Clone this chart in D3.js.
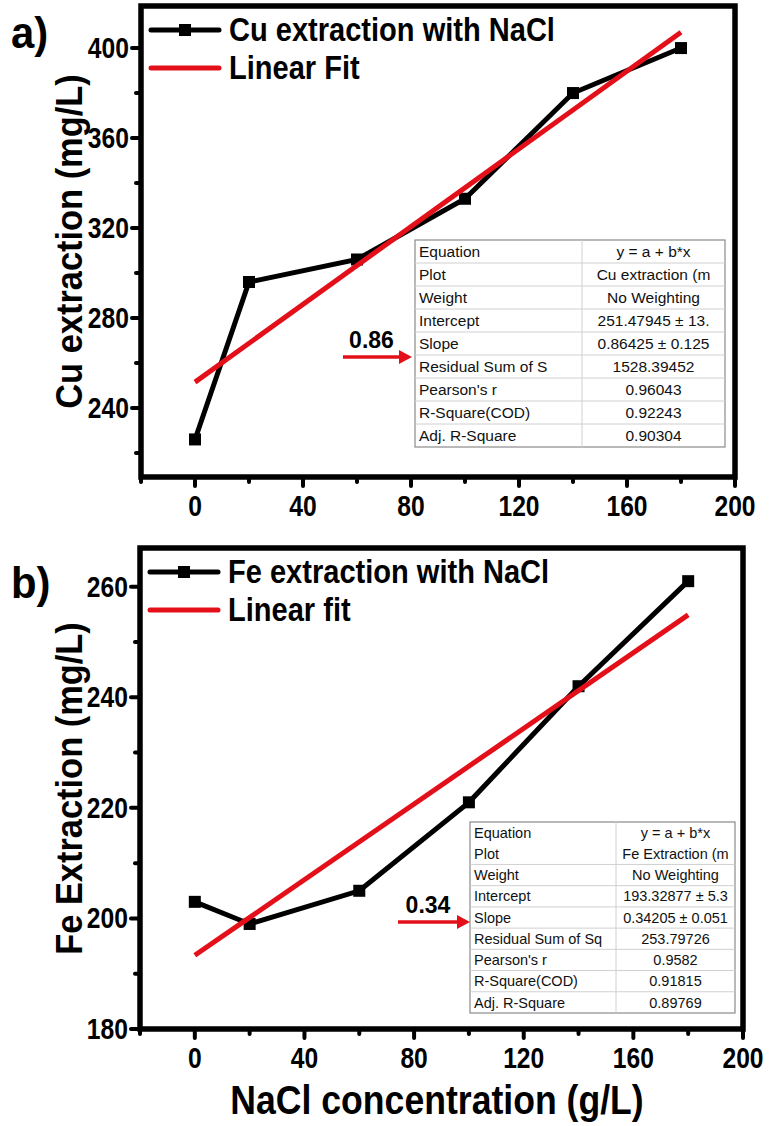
<!DOCTYPE html>
<html>
<head>
<meta charset="utf-8">
<script src="https://cdn.jsdelivr.net/npm/d3@7"></script>
<style>
  body { margin: 0; background: #fff; }
  svg text { font-family: "Liberation Sans Narrow", "Arial Narrow", "Liberation Sans", Arial, sans-serif; }
  .tbl text { font-family: "Liberation Sans", Arial, sans-serif; }
</style>
</head>
<body>
<div id="chart"></div>
<script>
// NaCl concentration (g/L), shared by both panels.
let nacl = [0, 20, 60, 100, 140, 180];
// Cu and Fe extraction (mg/L).
let cu = [226, 296, 306, 333, 380, 400];
let fe = [203, 199, 205, 221, 242, 261];

// Linear fit results (from the fit tables).
let cuFit = {a: 251.47945, b: 0.86425};
let feFit = {a: 193.32877, b: 0.34205};

let xTicks = [0, 40, 80, 120, 160, 200];
let cuTicks = [240, 280, 320, 360, 400];
let feTicks = [180, 200, 220, 240, 260];

let cuTable = [["Equation", "y = a + b*x"], ["Plot", "Cu extraction (m"], ["Weight", "No Weighting"],
  ["Intercept", "251.47945 \u00b1 13."], ["Slope", "0.86425 \u00b1 0.125"], ["Residual Sum of S", "1528.39452"],
  ["Pearson's r", "0.96043"], ["R-Square(COD)", "0.92243"], ["Adj. R-Square", "0.90304"]];
let feTable = [["Equation", "y = a + b*x"], ["Plot", "Fe Extraction (m"], ["Weight", "No Weighting"],
  ["Intercept", "193.32877 \u00b1 5.3"], ["Slope", "0.34205 \u00b1 0.051"], ["Residual Sum of Sq", "253.79726"],
  ["Pearson's r", "0.9582"], ["R-Square(COD)", "0.91815"], ["Adj. R-Square", "0.89769"]];

let svg = d3.select("#chart").append("svg")
  .attr("width", 771).attr("height", 1126);

let red = "#e3101a";

// No narrow font installed, so squeeze bold text horizontally to look like Arial Narrow.
function condense(sel, f) {
  sel.each(function() {
    let len = this.getComputedTextLength();
    d3.select(this).attr("textLength", len * f).attr("lengthAdjust", "spacingAndGlyphs");
  });
}

function panel(p) {
  let g = svg.append("g");
  let x = d3.scaleLinear().domain([-20, 200]).range([p.left, p.right]);
  let y = d3.scaleLinear().domain(p.yDomain).range([p.bottom, p.top]);

  // Frame
  g.append("rect")
   .attr("x", p.left).attr("y", p.top)
   .attr("width", p.right - p.left).attr("height", p.bottom - p.top)
   .attr("fill", "none").attr("stroke", "#000").attr("stroke-width", 5.5);

  // Ticks (major + minor) on bottom and left
  let xMinor = d3.range(-20, 201, 40);
  g.selectAll(".xmaj").data(xTicks).enter().append("line")
   .attr("x1", d => x(d)).attr("x2", d => x(d))
   .attr("y1", p.bottom).attr("y2", p.bottom + 9)
   .attr("stroke", "#000").attr("stroke-width", 4).attr("stroke-linecap", "round");
  g.selectAll(".xmin").data(xMinor).enter().append("line")
   .attr("x1", d => x(d)).attr("x2", d => x(d))
   .attr("y1", p.bottom).attr("y2", p.bottom + 5)
   .attr("stroke", "#000").attr("stroke-width", 4).attr("stroke-linecap", "round");
  g.selectAll(".xlab").data(xTicks).enter().append("text")
   .attr("x", d => x(d)).attr("y", p.bottom + 39)
   .attr("text-anchor", "middle").attr("font-weight", "bold").attr("font-size", 29)
   .text(d => d)
   .call(condense, 0.85);

  let yMinor = p.yTicks.slice(0, -1).map((d, i) => (d + p.yTicks[i + 1]) / 2);
  if (p.yMinorLow) yMinor.unshift(p.yMinorLow);
  g.selectAll(".ymaj").data(p.yTicks).enter().append("line")
   .attr("x1", p.left).attr("x2", p.left - 9)
   .attr("y1", d => y(d)).attr("y2", d => y(d))
   .attr("stroke", "#000").attr("stroke-width", 4).attr("stroke-linecap", "round");
  g.selectAll(".ymin").data(yMinor).enter().append("line")
   .attr("x1", p.left).attr("x2", p.left - 5)
   .attr("y1", d => y(d)).attr("y2", d => y(d))
   .attr("stroke", "#000").attr("stroke-width", 4).attr("stroke-linecap", "round");
  g.selectAll(".ylab").data(p.yTicks).enter().append("text")
   .attr("x", p.left - 12).attr("y", d => y(d) + 10)
   .attr("text-anchor", "end").attr("font-weight", "bold").attr("font-size", 29)
   .text(d => d)
   .call(condense, 0.85);

  // Y title
  g.append("text")
   .attr("transform", "translate(" + p.ytitleX + "," + ((p.top + p.bottom) / 2) + ") rotate(-90)")
   .attr("text-anchor", "middle").attr("font-weight", "bold").attr("font-size", 37)
   .text(p.ytitle)
   .call(condense, 0.93);

  // Panel letter
  g.append("text").attr("x", 11).attr("y", p.letterY)
   .attr("font-weight", "bold").attr("font-size", 44).text(p.letter)
   .call(condense, 0.95);

  // Data line + markers
  let pts = nacl.map((d, i) => [d, p.values[i]]);
  g.append("path").datum(pts)
   .attr("fill", "none").attr("stroke", "#000").attr("stroke-width", 5)
   .attr("d", d3.line().x(d => x(d[0])).y(d => y(d[1])));
  g.selectAll(".pt").data(pts).enter().append("rect")
   .attr("x", d => x(d[0]) - 6).attr("y", d => y(d[1]) - 6)
   .attr("width", 12).attr("height", 12).attr("fill", "#000");

  // Fit line
  let ends = d3.extent(nacl);
  g.append("path").datum(ends)
   .attr("fill", "none").attr("stroke", red).attr("stroke-width", 5)
   .attr("d", d3.line().x(d => x(d)).y(d => y(p.fit.a + p.fit.b * d)));

  // Legend
  let lx = p.left + 10, ly = p.top + 24;
  g.append("line").attr("x1", lx).attr("x2", lx + 68).attr("y1", ly).attr("y2", ly)
   .attr("stroke", "#000").attr("stroke-width", 5).attr("stroke-linecap", "round");
  g.append("rect").attr("x", lx + 28).attr("y", ly - 6).attr("width", 12).attr("height", 12);
  g.append("text").attr("x", lx + 78).attr("y", ly + 11)
   .attr("font-weight", "bold").attr("font-size", 33).text(p.legend1)
   .call(condense, 0.88);
  g.append("line").attr("x1", lx).attr("x2", lx + 68).attr("y1", ly + 38).attr("y2", ly + 38)
   .attr("stroke", red).attr("stroke-width", 5).attr("stroke-linecap", "round");
  g.append("text").attr("x", lx + 78).attr("y", ly + 49)
   .attr("font-weight", "bold").attr("font-size", 33).text(p.legend2)
   .call(condense, 0.88);

  // Fit table
  let t = p.table;
  let tg = g.append("g").attr("class", "tbl");
  let rh = (t.y1 - t.y0) / p.rows.length;
  tg.append("rect").attr("x", t.x0).attr("y", t.y0)
   .attr("width", t.x1 - t.x0).attr("height", t.y1 - t.y0)
   .attr("fill", "#fff").attr("stroke", "#8a8a8a").attr("stroke-width", 1.2);
  tg.selectAll(".rl").data(d3.range(1, p.rows.length).filter(d => d !== t.skipLine)).enter().append("line")
   .attr("x1", t.x0).attr("x2", t.x1)
   .attr("y1", d => t.y0 + d * rh).attr("y2", d => t.y0 + d * rh)
   .attr("stroke", "#d0d0d0").attr("stroke-width", 1);
  tg.append("line").attr("x1", t.xm).attr("x2", t.xm).attr("y1", t.y0).attr("y2", t.y1)
   .attr("stroke", "#d0d0d0").attr("stroke-width", 1);
  tg.selectAll(".c1").data(p.rows).enter().append("text")
   .attr("x", t.x0 + 4).attr("y", (d, i) => t.y0 + (i + 0.5) * rh + t.fs * 0.36)
   .attr("font-size", t.fs).attr("fill", "#111").text(d => d[0]);
  tg.selectAll(".c2").data(p.rows).enter().append("text")
   .attr("x", (t.xm + t.x1) / 2).attr("y", (d, i) => t.y0 + (i + 0.5) * rh + t.fs * 0.36)
   .attr("text-anchor", "middle").attr("font-size", t.fs).attr("fill", "#111").text(d => d[1]);

  // Slope arrow
  let a = p.arrow;
  g.append("line").attr("x1", a.x0).attr("x2", a.x1 - 10).attr("y1", a.y).attr("y2", a.y)
   .attr("stroke", red).attr("stroke-width", 3.5);
  g.append("path")
   .attr("d", "M" + a.x1 + "," + a.y + "L" + (a.x1 - 13) + "," + (a.y - 7) + "L" + (a.x1 - 13) + "," + (a.y + 7) + "Z")
   .attr("fill", red);
  g.append("text").attr("x", (a.x0 + a.x1) / 2 - 6).attr("y", a.y - 9)
   .attr("text-anchor", "middle").attr("font-weight", "bold").attr("font-size", 23)
   .attr("font-family", "Liberation Sans, Arial, sans-serif")
   .text(a.label);
}

panel({
  left: 141, right: 735, top: 6, bottom: 477,
  yDomain: [209.3, 418.7], yTicks: cuTicks, yMinorLow: 220,
  values: cu, fit: cuFit, letter: "a)", letterY: 48,
  ytitle: "Cu extraction (mg/L)", ytitleX: 82,
  legend1: "Cu extraction with NaCl", legend2: "Linear Fit",
  rows: cuTable,
  table: {x0: 415, x1: 725, xm: 582, y0: 240, y1: 447, fs: 15.5, skipLine: -1},
  arrow: {x0: 343, x1: 412, y: 357, label: "0.86"}
});

panel({
  left: 140, right: 743, top: 548, bottom: 1029,
  yDomain: [180, 267], yTicks: feTicks, yMinorLow: null,
  values: fe, fit: feFit, letter: "b)", letterY: 598,
  ytitle: "Fe Extraction (mg/L)", ytitleX: 82,
  legend1: "Fe extraction with NaCl", legend2: "Linear fit",
  rows: feTable,
  table: {x0: 470, x1: 735, xm: 616, y0: 822, y1: 1013, fs: 14.5, skipLine: 1},
  arrow: {x0: 398, x1: 470, y: 922, label: "0.34"}
});

// Shared x title
svg.append("text").attr("x", 437).attr("y", 1114)
   .attr("text-anchor", "middle").attr("font-weight", "bold").attr("font-size", 40)
   .text("NaCl concentration (g/L)")
   .call(condense, 0.89);
</script>
</body>
</html>
